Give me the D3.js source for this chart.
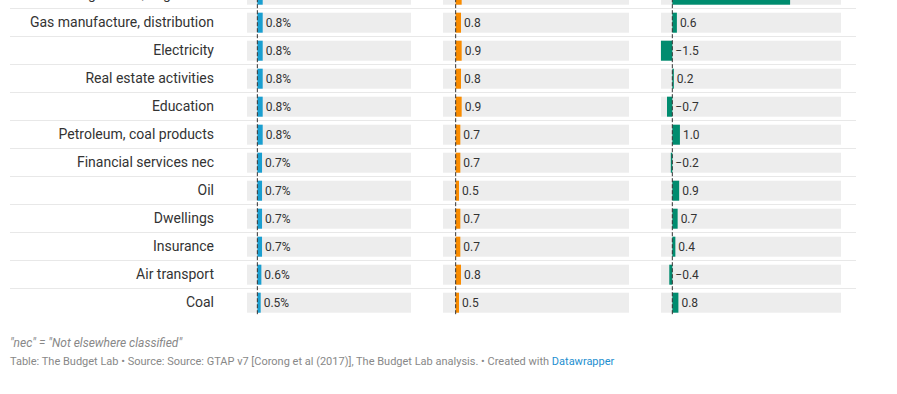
<!DOCTYPE html>
<html>
<head>
<meta charset="utf-8">
<script src="https://cdn.jsdelivr.net/npm/d3@7"></script>
<style>
  body { margin: 0; background: #fff; font-family: Roboto, "Noto Sans", sans-serif; }
  svg { display: block; }
</style>
</head>
<body>
<svg id="table"></svg>
<script>
// Data (table is scrolled: first row is mostly cut off at the top)
var sectors = ["Sugar cane, sugar beet", "Gas manufacture, distribution", "Electricity",
    "Real estate activities", "Education", "Petroleum, coal products",
    "Financial services nec", "Oil", "Dwellings", "Insurance", "Air transport", "Coal"];
var shareValues = [0.8, 0.8, 0.8, 0.8, 0.8, 0.8, 0.7, 0.7, 0.7, 0.7, 0.6, 0.5];
var secondValues = [0.9, 0.8, 0.9, 0.8, 0.9, 0.7, 0.7, 0.5, 0.7, 0.7, 0.8, 0.5];
var thirdValues = [15.5, 0.6, -1.5, 0.2, -0.7, 1.0, -0.2, 0.9, 0.7, 0.4, -0.4, 0.8];
// column domains (include rows not visible in this crop)
var shareDomain = [-1.55, 23];
var secondDomain = [-1.9, 26];
var thirdDomain = [-1.49, 22.2];

var footNote = "\"nec\" = \"Not elsewhere classified\"";
var sourceText = "Table: The Budget Lab \u2022 Source: Source: GTAP v7 [Corong et al (2017)], The Budget Lab analysis. \u2022 Created with ";
var creditText = "Datawrapper";

// SVG
var width = 897;
var height = 394;
var rowH = 28;
var barH = 20;

var svg = d3.select("#table")
    .attr("width", width)
    .attr("height", height);

var y = d3.scaleBand()
    .domain(sectors)
    .range([-19.8, -19.8 + rowH * sectors.length])
    .padding(0);

var columns = [
    { values: shareValues, domain: shareDomain, range: [247, 411], color: "#1a9fd0", fmt: d => d.toFixed(1) + "%" },
    { values: secondValues, domain: secondDomain, range: [443, 629], color: "#fa8c00", fmt: d => d.toFixed(1) },
    { values: thirdValues, domain: thirdDomain, range: [661, 841], color: "#008c6f", fmt: d => d3.format(".1f")(d) }
];

// row separators
svg.append("g").selectAll("line")
    .data(sectors.slice(1))
    .join("line")
    .attr("x1", 10)
    .attr("x2", 856)
    .attr("y1", d => Math.floor(y(d)) + 0.5)
    .attr("y2", d => Math.floor(y(d)) + 0.5)
    .attr("stroke", "#e8e8e8")
    .attr("stroke-width", 1);

// labels
svg.append("g").selectAll("text")
    .data(sectors)
    .join("text")
    .attr("x", 214)
    .attr("y", d => y(d) + rowH / 2)
    .attr("text-anchor", "end")
    .attr("dominant-baseline", "central")
    .style("font-size", "14px")
    .attr("fill", "#333")
    .text(d => d);

columns.forEach(function(col) {
    var x = d3.scaleLinear().domain(col.domain).range(col.range);
    var g = svg.append("g");
    var rows = sectors.map((s, i) => ({ name: s, v: col.values[i] }));

    // background track
    g.selectAll("rect.bg")
        .data(rows)
        .join("rect")
        .attr("class", "bg")
        .attr("x", x(col.domain[0]))
        .attr("width", x(col.domain[1]) - x(col.domain[0]))
        .attr("y", d => y(d.name) + (rowH - barH) / 2 + 0.5)
        .attr("height", barH)
        .attr("fill", "#ededed");

    // bars
    g.selectAll("rect.bar")
        .data(rows)
        .join("rect")
        .attr("class", "bar")
        .attr("x", d => x(Math.min(0, d.v)))
        .attr("width", d => Math.abs(x(d.v) - x(0)))
        .attr("y", d => y(d.name) + (rowH - barH) / 2 + 0.5)
        .attr("height", barH)
        .attr("fill", col.color);

    // zero line
    g.append("line")
        .attr("x1", x(0))
        .attr("x2", x(0))
        .attr("y1", y.range()[0])
        .attr("y2", y.range()[1])
        .attr("stroke", "#333")
        .attr("stroke-width", 1)
        .attr("stroke-dasharray", "4,2");

    // value labels
    g.selectAll("text")
        .data(rows)
        .join("text")
        .attr("x", d => Math.max(x(0), x(d.v)) + 3)
        .attr("y", d => y(d.name) + rowH / 2 + 0.5)
        .attr("dominant-baseline", "central")
        .style("font-size", "12px")
        .attr("fill", "#333")
        .text(d => col.fmt(d.v).replace("-", "\u2212"));
});

// footer
svg.append("text")
    .attr("x", 10)
    .attr("y", 343)
    .attr("dominant-baseline", "central")
    .style("font-size", "12px")
    .style("font-style", "italic")
    .attr("fill", "#888")
    .text(footNote);

var src = svg.append("text")
    .attr("x", 10)
    .attr("y", 361)
    .attr("dominant-baseline", "central")
    .style("font-size", "11px")
    .attr("fill", "#888");
src.append("tspan").text(sourceText);
src.append("tspan").attr("fill", "#1d8fd0").text(creditText);
</script>
</body>
</html>
